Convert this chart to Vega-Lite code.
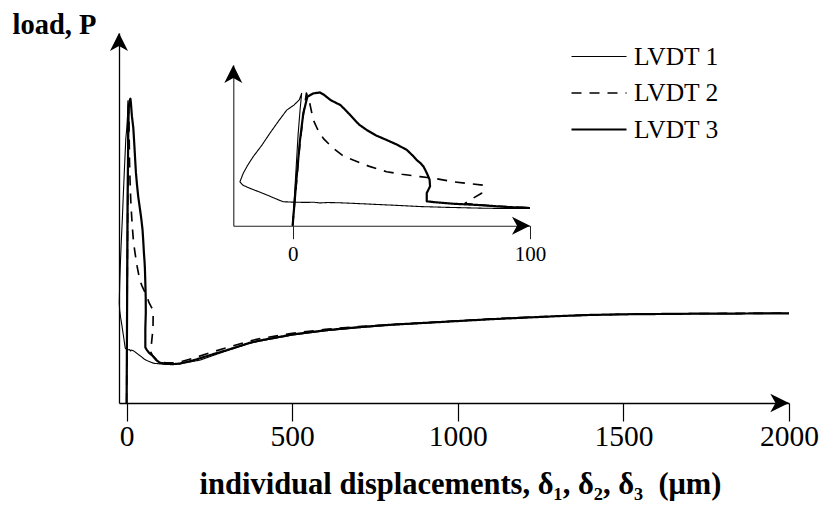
{
  "$schema": "https://vega.github.io/schema/vega-lite/v6.json",
  "width": 789,
  "height": 403,
  "autosize": {"type": "none"},
  "padding": {"left": 0, "top": 0, "right": 32, "bottom": 113},
  "background": "white",
  "config": {
    "view": {"stroke": null},
    "axis": {"grid": false},
    "font": "Liberation Serif"
  },
  "datasets": {
    "curves": [
      {"s": "LVDT 1", "n": 1, "d": 0, "P": 0},
      {"s": "LVDT 1", "n": 2, "d": 1.2, "P": 35},
      {"s": "LVDT 1", "n": 3, "d": 2.3, "P": 68},
      {"s": "LVDT 1", "n": 4, "d": 3.2, "P": 88},
      {"s": "LVDT 1", "n": 5, "d": 3.8, "P": 98.8},
      {"s": "LVDT 1", "n": 6, "d": 2.8, "P": 94},
      {"s": "LVDT 1", "n": 7, "d": 0.5, "P": 90},
      {"s": "LVDT 1", "n": 8, "d": -2.5, "P": 86.3},
      {"s": "LVDT 1", "n": 9, "d": -6, "P": 78},
      {"s": "LVDT 1", "n": 10, "d": -9.6, "P": 69},
      {"s": "LVDT 1", "n": 11, "d": -13, "P": 60},
      {"s": "LVDT 1", "n": 12, "d": -16.6, "P": 51.6},
      {"s": "LVDT 1", "n": 13, "d": -19, "P": 45},
      {"s": "LVDT 1", "n": 14, "d": -20.8, "P": 39.2},
      {"s": "LVDT 1", "n": 15, "d": -22.2, "P": 32.8},
      {"s": "LVDT 1", "n": 16, "d": -21, "P": 30.3},
      {"s": "LVDT 1", "n": 17, "d": -18, "P": 27.9},
      {"s": "LVDT 1", "n": 18, "d": -14, "P": 25.2},
      {"s": "LVDT 1", "n": 19, "d": -10, "P": 22.3},
      {"s": "LVDT 1", "n": 20, "d": -6, "P": 19.3},
      {"s": "LVDT 1", "n": 21, "d": -4, "P": 17.9},
      {"s": "LVDT 1", "n": 22, "d": 0, "P": 17.6},
      {"s": "LVDT 1", "n": 23, "d": 5, "P": 17.4},
      {"s": "LVDT 1", "n": 24, "d": 9, "P": 17.5},
      {"s": "LVDT 1", "n": 25, "d": 11.5, "P": 17.0},
      {"s": "LVDT 1", "n": 26, "d": 15, "P": 17.3},
      {"s": "LVDT 1", "n": 27, "d": 20, "P": 17.1},
      {"s": "LVDT 1", "n": 28, "d": 25.5, "P": 16.7},
      {"s": "LVDT 1", "n": 29, "d": 35, "P": 15.9},
      {"s": "LVDT 1", "n": 30, "d": 45, "P": 15.1},
      {"s": "LVDT 1", "n": 31, "d": 53.7, "P": 14.3},
      {"s": "LVDT 1", "n": 32, "d": 65, "P": 13.7},
      {"s": "LVDT 1", "n": 33, "d": 81.8, "P": 13.0},
      {"s": "LVDT 1", "n": 34, "d": 100, "P": 12.8},
      {"s": "LVDT 1", "n": 35, "d": 120, "P": 12.6},
      {"s": "LVDT 1", "n": 36, "d": 140, "P": 12.6},
      {"s": "LVDT 1", "n": 37, "d": 160, "P": 12.8},
      {"s": "LVDT 1", "n": 38, "d": 200, "P": 13.6},
      {"s": "LVDT 1", "n": 39, "d": 221, "P": 14.0},
      {"s": "LVDT 1", "n": 40, "d": 260, "P": 15.5},
      {"s": "LVDT 1", "n": 41, "d": 300, "P": 17.0},
      {"s": "LVDT 1", "n": 42, "d": 372, "P": 19.5},
      {"s": "LVDT 1", "n": 43, "d": 400, "P": 20.2},
      {"s": "LVDT 1", "n": 44, "d": 500, "P": 22.2},
      {"s": "LVDT 1", "n": 45, "d": 600, "P": 23.6},
      {"s": "LVDT 1", "n": 46, "d": 700, "P": 24.6},
      {"s": "LVDT 1", "n": 47, "d": 765, "P": 25.2},
      {"s": "LVDT 1", "n": 48, "d": 800, "P": 25.5},
      {"s": "LVDT 1", "n": 49, "d": 900, "P": 26.1},
      {"s": "LVDT 1", "n": 50, "d": 967, "P": 26.6},
      {"s": "LVDT 1", "n": 51, "d": 1000, "P": 26.8},
      {"s": "LVDT 1", "n": 52, "d": 1100, "P": 27.4},
      {"s": "LVDT 1", "n": 53, "d": 1200, "P": 27.9},
      {"s": "LVDT 1", "n": 54, "d": 1300, "P": 28.4},
      {"s": "LVDT 1", "n": 55, "d": 1369, "P": 28.7},
      {"s": "LVDT 1", "n": 56, "d": 1400, "P": 28.8},
      {"s": "LVDT 1", "n": 57, "d": 1500, "P": 29.0},
      {"s": "LVDT 1", "n": 58, "d": 1600, "P": 29.1},
      {"s": "LVDT 1", "n": 59, "d": 1700, "P": 29.2},
      {"s": "LVDT 1", "n": 60, "d": 1800, "P": 29.2},
      {"s": "LVDT 1", "n": 61, "d": 1900, "P": 29.3},
      {"s": "LVDT 1", "n": 62, "d": 2000, "P": 29.3},

      {"s": "LVDT 2", "n": 1, "d": 0, "P": 0},
      {"s": "LVDT 2", "n": 2, "d": 1.5, "P": 30},
      {"s": "LVDT 2", "n": 3, "d": 3, "P": 60},
      {"s": "LVDT 2", "n": 4, "d": 4.5, "P": 83},
      {"s": "LVDT 2", "n": 5, "d": 5.8, "P": 99},
      {"s": "LVDT 2", "n": 6, "d": 7.2, "P": 91.5},
      {"s": "LVDT 2", "n": 7, "d": 8.7, "P": 79},
      {"s": "LVDT 2", "n": 8, "d": 10.5, "P": 72},
      {"s": "LVDT 2", "n": 9, "d": 13, "P": 65},
      {"s": "LVDT 2", "n": 10, "d": 17.1, "P": 57.8},
      {"s": "LVDT 2", "n": 11, "d": 21, "P": 52.5},
      {"s": "LVDT 2", "n": 12, "d": 25.5, "P": 49},
      {"s": "LVDT 2", "n": 13, "d": 32, "P": 44.5},
      {"s": "LVDT 2", "n": 14, "d": 39.6, "P": 40.3},
      {"s": "LVDT 2", "n": 15, "d": 46, "P": 38.4},
      {"s": "LVDT 2", "n": 16, "d": 53.7, "P": 36.6},
      {"s": "LVDT 2", "n": 17, "d": 60, "P": 35.3},
      {"s": "LVDT 2", "n": 18, "d": 67.7, "P": 32.8},
      {"s": "LVDT 2", "n": 19, "d": 74, "P": 31.5},
      {"s": "LVDT 2", "n": 20, "d": 80.3, "P": 30.3},
      {"s": "LVDT 2", "n": 21, "d": 79.6, "P": 24.2},
      {"s": "LVDT 2", "n": 22, "d": 76, "P": 20.5},
      {"s": "LVDT 2", "n": 23, "d": 72.6, "P": 16.7},
      {"s": "LVDT 2", "n": 24, "d": 78.9, "P": 15.4},
      {"s": "LVDT 2", "n": 25, "d": 90, "P": 14.2},
      {"s": "LVDT 2", "n": 26, "d": 100, "P": 13.4},
      {"s": "LVDT 2", "n": 27, "d": 120, "P": 13.1},
      {"s": "LVDT 2", "n": 28, "d": 140, "P": 13.1},
      {"s": "LVDT 2", "n": 29, "d": 160, "P": 13.4},
      {"s": "LVDT 2", "n": 30, "d": 200, "P": 14.6},
      {"s": "LVDT 2", "n": 31, "d": 250, "P": 16.4},
      {"s": "LVDT 2", "n": 32, "d": 300, "P": 18.0},
      {"s": "LVDT 2", "n": 33, "d": 372, "P": 20.3},
      {"s": "LVDT 2", "n": 34, "d": 400, "P": 21.0},
      {"s": "LVDT 2", "n": 35, "d": 500, "P": 22.8},
      {"s": "LVDT 2", "n": 36, "d": 600, "P": 24.1},
      {"s": "LVDT 2", "n": 37, "d": 700, "P": 25.0},
      {"s": "LVDT 2", "n": 38, "d": 800, "P": 25.7},
      {"s": "LVDT 2", "n": 39, "d": 900, "P": 26.3},
      {"s": "LVDT 2", "n": 40, "d": 1000, "P": 26.9},
      {"s": "LVDT 2", "n": 41, "d": 1100, "P": 27.5},
      {"s": "LVDT 2", "n": 42, "d": 1200, "P": 28.0},
      {"s": "LVDT 2", "n": 43, "d": 1300, "P": 28.4},
      {"s": "LVDT 2", "n": 44, "d": 1400, "P": 28.8},
      {"s": "LVDT 2", "n": 45, "d": 1500, "P": 29.0},
      {"s": "LVDT 2", "n": 46, "d": 1600, "P": 29.1},
      {"s": "LVDT 2", "n": 47, "d": 1700, "P": 29.2},
      {"s": "LVDT 2", "n": 48, "d": 1800, "P": 29.3},
      {"s": "LVDT 2", "n": 49, "d": 1900, "P": 29.3},
      {"s": "LVDT 2", "n": 50, "d": 2000, "P": 29.4},

      {"s": "LVDT 3", "n": 1, "d": 0, "P": 0},
      {"s": "LVDT 3", "n": 2, "d": 1.7, "P": 36.6},
      {"s": "LVDT 3", "n": 3, "d": 3.1, "P": 64},
      {"s": "LVDT 3", "n": 4, "d": 4.5, "P": 83.9},
      {"s": "LVDT 3", "n": 5, "d": 6.2, "P": 96.3},
      {"s": "LVDT 3", "n": 6, "d": 8.7, "P": 98.8},
      {"s": "LVDT 3", "n": 7, "d": 11.5, "P": 99.5},
      {"s": "LVDT 3", "n": 8, "d": 13, "P": 98},
      {"s": "LVDT 3", "n": 9, "d": 16, "P": 93.8},
      {"s": "LVDT 3", "n": 10, "d": 20.2, "P": 90},
      {"s": "LVDT 3", "n": 11, "d": 23, "P": 85},
      {"s": "LVDT 3", "n": 12, "d": 25.5, "P": 80.2},
      {"s": "LVDT 3", "n": 13, "d": 28, "P": 75.5},
      {"s": "LVDT 3", "n": 14, "d": 31.2, "P": 71.5},
      {"s": "LVDT 3", "n": 15, "d": 35, "P": 67.5},
      {"s": "LVDT 3", "n": 16, "d": 39.6, "P": 64},
      {"s": "LVDT 3", "n": 17, "d": 44, "P": 60.5},
      {"s": "LVDT 3", "n": 18, "d": 48.1, "P": 56.6},
      {"s": "LVDT 3", "n": 19, "d": 50.5, "P": 52.5},
      {"s": "LVDT 3", "n": 20, "d": 52.3, "P": 49},
      {"s": "LVDT 3", "n": 21, "d": 54, "P": 46.5},
      {"s": "LVDT 3", "n": 22, "d": 55.2, "P": 44},
      {"s": "LVDT 3", "n": 23, "d": 56.6, "P": 39},
      {"s": "LVDT 3", "n": 24, "d": 57.7, "P": 34.4},
      {"s": "LVDT 3", "n": 25, "d": 57.9, "P": 29.4},
      {"s": "LVDT 3", "n": 26, "d": 56.5, "P": 24.4},
      {"s": "LVDT 3", "n": 27, "d": 56.5, "P": 18.2},
      {"s": "LVDT 3", "n": 28, "d": 60.7, "P": 17.4},
      {"s": "LVDT 3", "n": 29, "d": 67.7, "P": 16.4},
      {"s": "LVDT 3", "n": 30, "d": 78.9, "P": 15.4},
      {"s": "LVDT 3", "n": 31, "d": 90, "P": 14.0},
      {"s": "LVDT 3", "n": 32, "d": 100, "P": 13.2},
      {"s": "LVDT 3", "n": 33, "d": 120, "P": 12.8},
      {"s": "LVDT 3", "n": 34, "d": 140, "P": 12.7},
      {"s": "LVDT 3", "n": 35, "d": 160, "P": 12.9},
      {"s": "LVDT 3", "n": 36, "d": 200, "P": 13.9},
      {"s": "LVDT 3", "n": 37, "d": 250, "P": 15.6},
      {"s": "LVDT 3", "n": 38, "d": 300, "P": 17.2},
      {"s": "LVDT 3", "n": 39, "d": 372, "P": 19.7},
      {"s": "LVDT 3", "n": 40, "d": 400, "P": 20.4},
      {"s": "LVDT 3", "n": 41, "d": 500, "P": 22.4},
      {"s": "LVDT 3", "n": 42, "d": 600, "P": 23.8},
      {"s": "LVDT 3", "n": 43, "d": 700, "P": 24.8},
      {"s": "LVDT 3", "n": 44, "d": 800, "P": 25.6},
      {"s": "LVDT 3", "n": 45, "d": 900, "P": 26.2},
      {"s": "LVDT 3", "n": 46, "d": 1000, "P": 26.8},
      {"s": "LVDT 3", "n": 47, "d": 1100, "P": 27.4},
      {"s": "LVDT 3", "n": 48, "d": 1200, "P": 27.9},
      {"s": "LVDT 3", "n": 49, "d": 1300, "P": 28.4},
      {"s": "LVDT 3", "n": 50, "d": 1400, "P": 28.8},
      {"s": "LVDT 3", "n": 51, "d": 1500, "P": 29.0},
      {"s": "LVDT 3", "n": 52, "d": 1600, "P": 29.1},
      {"s": "LVDT 3", "n": 53, "d": 1700, "P": 29.2},
      {"s": "LVDT 3", "n": 54, "d": 1800, "P": 29.2},
      {"s": "LVDT 3", "n": 55, "d": 1900, "P": 29.3},
      {"s": "LVDT 3", "n": 56, "d": 2000, "P": 29.3}
    ],
    "arrows": [
      {"view": "main", "dir": "up", "d": -23, "P": 121},
      {"view": "main", "dir": "right", "d": 2000, "P": 0},
      {"view": "inset", "dir": "up", "d": -25, "P": 120},
      {"view": "inset", "dir": "right", "d": 100, "P": 0}
    ]
  },
  "resolve": {
    "scale": {"x": "independent", "y": "independent"},
    "axis": {"x": "independent", "y": "independent"}
  },
  "layer": [
    {
      "layer": [
        {
          "data": {"name": "curves"},
          "mark": {"type": "line", "color": "black", "strokeJoin": "round", "strokeCap": "butt"},
          "encoding": {
            "x": {
              "field": "d", "type": "quantitative",
              "scale": {"domain": [-23, 2000], "range": [119, 789], "nice": false, "zero": false},
              "axis": {
                "orient": "bottom",
                "values": [0, 500, 1000, 1500, 2000],
                "format": "d",
                "domainColor": "black", "domainWidth": 1.3,
                "tickColor": "black", "tickWidth": 1.2, "tickSize": 18,
                "labelFont": "Liberation Serif", "labelFontSize": 29.5, "labelColor": "black",
                "labelPadding": 1, "labelFlush": false, "labelOverlap": false,
                "title": "individual displacements, δ₁, δ₂, δ₃\u2002(μm)",
                "titleFont": "Liberation Serif", "titleFontSize": 30.5, "titleFontWeight": "bold",
                "titleColor": "black", "titleX": 460, "titleY": 90,
                "titleAlign": "center", "titleBaseline": "alphabetic"
              }
            },
            "y": {
              "field": "P", "type": "quantitative",
              "scale": {"domain": [0, 121], "range": [403, 33], "nice": false, "zero": false},
              "axis": {
                "orient": "left", "offset": -119,
                "domainColor": "black", "domainWidth": 1.3,
                "ticks": false, "labels": false,
                "title": "load, P",
                "titleFont": "Liberation Serif", "titleFontSize": 28.5, "titleFontWeight": "bold",
                "titleColor": "black", "titleAngle": 0, "titleX": -107, "titleY": 33,
                "titleAlign": "left", "titleBaseline": "alphabetic"
              }
            },
            "order": {"field": "n", "type": "quantitative"},
            "strokeDash": {
              "field": "s", "type": "nominal",
              "scale": {"domain": ["LVDT 1", "LVDT 2", "LVDT 3"], "range": [[1, 0], [10, 8], [1, 0]]},
              "legend": {
                "title": null, "orient": "none", "legendX": 570, "legendY": 44,
                "symbolType": "stroke", "symbolSize": 3025, "symbolStrokeColor": "black",
                "clipHeight": 25, "rowPadding": 10.5,
                "labelFont": "Liberation Serif", "labelFontSize": 25.5, "labelColor": "black",
                "labelOffset": 6, "padding": 0
              }
            },
            "strokeWidth": {
              "field": "s", "type": "nominal",
              "scale": {"domain": ["LVDT 1", "LVDT 2", "LVDT 3"], "range": [1.1, 2.2, 2.6]},
              "legend": {
                "title": null, "orient": "none", "legendX": 570, "legendY": 44,
                "symbolType": "stroke", "symbolSize": 3025, "symbolStrokeColor": "black",
                "clipHeight": 25, "rowPadding": 10.5,
                "labelFont": "Liberation Serif", "labelFontSize": 25.5, "labelColor": "black",
                "labelOffset": 6, "padding": 0
              }
            }
          }
        },
        {
          "data": {"name": "arrows"},
          "transform": [{"filter": "datum.view == 'main' && datum.dir == 'up'"}],
          "mark": {"type": "point", "shape": "M0,0 L0.5,1 L0,0.72 L-0.5,1 Z", "filled": true, "color": "black", "opacity": 1, "size": 1300, "strokeWidth": 0},
          "encoding": {
            "x": {"field": "d", "type": "quantitative"},
            "y": {"field": "P", "type": "quantitative"}
          }
        },
        {
          "data": {"name": "arrows"},
          "transform": [{"filter": "datum.view == 'main' && datum.dir == 'right'"}],
          "mark": {"type": "point", "shape": "M0,0 L0.5,1 L0,0.72 L-0.5,1 Z", "angle": 90, "filled": true, "color": "black", "opacity": 1, "size": 1400, "strokeWidth": 0},
          "encoding": {
            "x": {"field": "d", "type": "quantitative"},
            "y": {"field": "P", "type": "quantitative"}
          }
        }
      ]
    },
    {
      "layer": [
        {
          "data": {"name": "curves"},
          "transform": [{"filter": "datum.d <= 100"}],
          "mark": {"type": "line", "color": "black", "strokeJoin": "round", "strokeCap": "butt"},
          "encoding": {
            "x": {
              "field": "d", "type": "quantitative",
              "scale": {"domain": [-25, 100], "range": [233.3, 530], "nice": false, "zero": false},
              "axis": {
                "orient": "bottom", "offset": -177.3,
                "values": [0, 100], "format": "d",
                "domainColor": "#222", "domainWidth": 1.1,
                "tickColor": "#222", "tickWidth": 1, "tickSize": 13,
                "labelFont": "Liberation Serif", "labelFontSize": 21, "labelColor": "black",
                "labelPadding": 4.5, "labelFlush": false, "labelOverlap": false,
                "title": null
              }
            },
            "y": {
              "field": "P", "type": "quantitative",
              "scale": {"domain": [0, 120], "range": [225.7, 65], "nice": false, "zero": false},
              "axis": {
                "orient": "left", "offset": -233.3,
                "domainColor": "#222", "domainWidth": 1.1,
                "ticks": false, "labels": false, "title": null
              }
            },
            "order": {"field": "n", "type": "quantitative"},
            "strokeDash": {"field": "s", "type": "nominal", "legend": null},
            "strokeWidth": {"field": "s", "type": "nominal", "legend": null}
          }
        },
        {
          "data": {"name": "arrows"},
          "transform": [{"filter": "datum.view == 'inset' && datum.dir == 'up'"}],
          "mark": {"type": "point", "shape": "M0,0 L0.5,1 L0,0.72 L-0.5,1 Z", "filled": true, "color": "black", "opacity": 1, "size": 1300, "strokeWidth": 0},
          "encoding": {
            "x": {"field": "d", "type": "quantitative"},
            "y": {"field": "P", "type": "quantitative"}
          }
        },
        {
          "data": {"name": "arrows"},
          "transform": [{"filter": "datum.view == 'inset' && datum.dir == 'right'"}],
          "mark": {"type": "point", "shape": "M0,0 L0.5,1 L0,0.72 L-0.5,1 Z", "angle": 90, "filled": true, "color": "black", "opacity": 1, "size": 1300, "strokeWidth": 0},
          "encoding": {
            "x": {"field": "d", "type": "quantitative"},
            "y": {"field": "P", "type": "quantitative"}
          }
        }
      ]
    }
  ]
}
